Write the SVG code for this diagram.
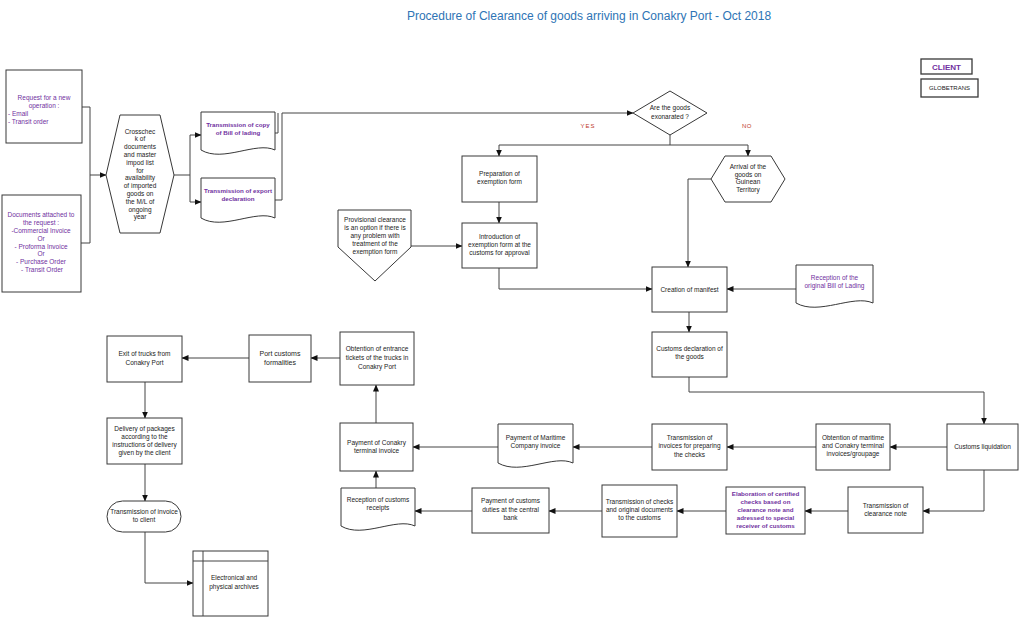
<svg xmlns="http://www.w3.org/2000/svg" width="1024" height="618" viewBox="0 0 1024 618">
<style>
.n{fill:#fff;stroke:#383838;stroke-width:1}
.t{font-family:"Liberation Sans",Arial,sans-serif;font-size:6.5px;fill:#222;text-anchor:middle}
.p{fill:#7030a0}
.b{font-weight:bold}
.c{fill:none;stroke:#444;stroke-width:1}
.a{marker-end:url(#ar)}
</style>
<defs>
<marker id="ar" markerUnits="userSpaceOnUse" markerWidth="7" markerHeight="6" refX="6.5" refY="3" orient="auto">
<path d="M0,0 L7,3 L0,6 Z" fill="#111"/>
</marker>
</defs>
<rect width="1024" height="618" fill="#fff"/>
<text x="589" y="20" style="font-family:'Liberation Sans',Arial,sans-serif;font-size:12px;fill:#2e74b5;text-anchor:middle">Procedure of Clearance of goods arriving in Conakry Port - Oct 2018</text>

<g id="connectors">
<path class="c" d="M82 107 H90 V243 H81"/>
<path class="c a" d="M90 175 H106"/>
<path class="c" d="M174 175 H190"/>
<path class="c a" d="M190 175 V135 H201"/>
<path class="c a" d="M190 175 V202 H201"/>
<path class="c" d="M275 133 H278 V113"/>
<path class="c a" d="M275 200 H282 V113 H633"/>
<path class="c a" d="M670 135 V145 H499 V156"/>
<path class="c a" d="M670 145 H748 V156"/>
<path class="c a" d="M499 202 V223"/>
<path class="c a" d="M411 246 H462"/>
<path class="c a" d="M499 268 V289 H652"/>
<path class="c a" d="M711 179 H688 V267"/>
<path class="c a" d="M796 289 H727"/>
<path class="c a" d="M689 312 V332"/>
<path class="c a" d="M689 377 V392 H984 V424"/>
<path class="c a" d="M947 447 H890"/>
<path class="c a" d="M816 447 H727"/>
<path class="c a" d="M652 447 H573"/>
<path class="c a" d="M498 447 H413"/>
<path class="c a" d="M376 423 V385"/>
<path class="c a" d="M340 358 H311"/>
<path class="c a" d="M249 358 H182"/>
<path class="c a" d="M145 382 V418"/>
<path class="c a" d="M145 464 V501"/>
<path class="c a" d="M145 532 V583 H193"/>
<path class="c a" d="M984 470 V511 H923"/>
<path class="c a" d="M848 511 H805"/>
<path class="c a" d="M726 511 H677"/>
<path class="c a" d="M602 511 H549"/>
<path class="c a" d="M472 511 H415"/>
<path class="c a" d="M376 488 V471"/>
</g>

<g id="request">
<rect class="n" x="6" y="70" width="76" height="73"/>
<text class="t p"><tspan x="44" y="100">Request for a new</tspan><tspan x="44" y="108">operation :</tspan><tspan x="8" y="116" text-anchor="start">- Email</tspan><tspan x="8" y="124" text-anchor="start">- Transit order</tspan></text>
</g>
<g id="documents">
<rect class="n" x="2" y="195" width="79" height="97"/>
<text class="t p"><tspan x="41" y="217">Documents attached to</tspan><tspan x="41" y="225">the request :</tspan><tspan x="41" y="233">-Commercial Invoice</tspan><tspan x="41" y="241">Or</tspan><tspan x="41" y="249">- Proforma Invoice</tspan><tspan x="41" y="256">Or</tspan><tspan x="41" y="264">- Purchase Order</tspan><tspan x="42" y="272">- Transit Order</tspan></text>
</g>
<g id="crosscheck">
<polygon class="n" points="106,175 120,115 160,115 174,175 160,233 120,233"/>
<text class="t"><tspan x="140" y="133.5">Crosschec</tspan><tspan x="140" y="141.3">k of</tspan><tspan x="140" y="149.1">documents</tspan><tspan x="140" y="156.9">and master</tspan><tspan x="140" y="164.7">impod list</tspan><tspan x="140" y="172.5">for</tspan><tspan x="140" y="180.3">availability</tspan><tspan x="140" y="188.1">of imported</tspan><tspan x="140" y="195.9">goods on</tspan><tspan x="140" y="203.7">the M/L of</tspan><tspan x="140" y="211.5">ongoing</tspan><tspan x="140" y="219.3">year</tspan></text>
</g>
<g id="doc-bl">
<path class="n" d="M201 112 H275 V150 C256 141 223 163 201 150 Z"/>
<text class="t p b" style="font-size:6.2px"><tspan x="238" y="127">Transmission of copy</tspan><tspan x="238" y="135">of Bill of lading</tspan></text>
</g>
<g id="doc-export">
<path class="n" d="M201 178 H275 V218 C256 209 223 231 201 218 Z"/>
<text class="t p b" style="font-size:6.2px"><tspan x="238" y="193">Transmission of export</tspan><tspan x="238" y="201">declaration</tspan></text>
</g>
<g id="decision">
<polygon class="n" points="633,113 670,91 707,113 670,135"/>
<text class="t"><tspan x="670" y="110">Are the goods</tspan><tspan x="670" y="119">exonarated ?</tspan></text>
</g>
<text x="588" y="128" style="font-family:'Liberation Sans',Arial,sans-serif;font-size:6px;fill:#c0392b;text-anchor:middle;letter-spacing:1px">YES</text>
<text x="747" y="128" style="font-family:'Liberation Sans',Arial,sans-serif;font-size:6px;fill:#c0392b;text-anchor:middle;letter-spacing:0.5px">NO</text>
<g id="preparation">
<rect class="n" x="462" y="156" width="75" height="46"/>
<text class="t"><tspan x="499.5" y="176">Preparation of</tspan><tspan x="499.5" y="184">exemption form</tspan></text>
</g>
<g id="introduction">
<rect class="n" x="462" y="223" width="75" height="45"/>
<text class="t"><tspan x="499.5" y="239">Introduction of</tspan><tspan x="499.5" y="247">exemption form at the</tspan><tspan x="499.5" y="255">customs for approval</tspan></text>
</g>
<g id="arrival">
<polygon class="n" points="711,179 725,156 771,156 785,179 771,202 725,202"/>
<text class="t"><tspan x="748" y="169">Arrival of the</tspan><tspan x="748" y="176.7">goods on</tspan><tspan x="748" y="184.4">Guinean</tspan><tspan x="748" y="192.1">Territory</tspan></text>
</g>
<g id="provisional">
<polygon class="n" points="338,210 411,210 411,247 375,281 338,247"/>
<text class="t"><tspan x="375" y="222">Provisional clearance</tspan><tspan x="375" y="230">is an option if there is</tspan><tspan x="375" y="238">any problem with</tspan><tspan x="375" y="246">treatment of the</tspan><tspan x="375" y="254">exemption form</tspan></text>
</g>
<g id="manifest">
<rect class="n" x="652" y="267" width="75" height="45"/>
<text class="t"><tspan x="689.5" y="292">Creation of manifest</tspan></text>
</g>
<g id="reception-bl">
<path class="n" d="M796 265 H873 V303 C853 294 819 316 796 303 Z"/>
<text class="t p"><tspan x="834.5" y="280">Reception of the</tspan><tspan x="834.5" y="288">original Bill of Lading</tspan></text>
</g>
<g id="customs-declaration">
<rect class="n" x="652" y="332" width="75" height="45"/>
<text class="t"><tspan x="689.5" y="351">Customs declaration of</tspan><tspan x="689.5" y="359">the goods</tspan></text>
</g>
<g id="liquidation">
<rect class="n" x="947" y="424" width="71" height="46"/>
<text class="t"><tspan x="982.5" y="449">Customs liquidation</tspan></text>
</g>
<g id="obtention-invoices">
<rect class="n" x="816" y="424" width="74" height="46"/>
<text class="t"><tspan x="853" y="440">Obtention of maritime</tspan><tspan x="853" y="448">and Conakry terminal</tspan><tspan x="853" y="456">invoices/groupage</tspan></text>
</g>
<g id="transmission-invoices">
<rect class="n" x="652" y="424" width="75" height="46"/>
<text class="t"><tspan x="689.5" y="439.5">Transmission of</tspan><tspan x="689.5" y="448">invoices for preparing</tspan><tspan x="689.5" y="456.5">the checks</tspan></text>
</g>
<g id="payment-maritime">
<path class="n" d="M498 424 H573 V463 C554 454 521 476 498 463 Z"/>
<text class="t"><tspan x="535.5" y="440">Payment of Maritime</tspan><tspan x="535.5" y="448">Company invoice</tspan></text>
</g>
<g id="payment-conakry">
<rect class="n" x="340" y="423" width="73" height="48"/>
<text class="t"><tspan x="376.5" y="445">Payment of Conakry</tspan><tspan x="376.5" y="453">terminal invoice</tspan></text>
</g>
<g id="obtention-tickets">
<rect class="n" x="340" y="332" width="74" height="53"/>
<text class="t"><tspan x="377" y="351">Obtention of entrance</tspan><tspan x="377" y="360">tickets of the trucks in</tspan><tspan x="377" y="368.5">Conakry Port</tspan></text>
</g>
<g id="port-customs">
<rect class="n" x="249" y="335" width="62" height="47"/>
<text class="t" style="font-size:7px"><tspan x="280" y="356">Port customs</tspan><tspan x="280" y="365">formalities</tspan></text>
</g>
<g id="exit">
<rect class="n" x="107" y="336" width="75" height="46"/>
<text class="t"><tspan x="144.5" y="356">Exit of trucks from</tspan><tspan x="144.5" y="365">Conakry Port</tspan></text>
</g>
<g id="delivery">
<rect class="n" x="107" y="418" width="75" height="46"/>
<text class="t"><tspan x="144.5" y="430.5">Delivery of packages</tspan><tspan x="144.5" y="438.5">according to the</tspan><tspan x="144.5" y="446.5">instructions of delivery</tspan><tspan x="144.5" y="454.5">given by the client</tspan></text>
</g>
<g id="invoice-client">
<rect class="n" x="107" y="501" width="74" height="31" rx="15.5"/>
<text class="t"><tspan x="144" y="514">Transmission of invoice</tspan><tspan x="144" y="522">to client</tspan></text>
</g>
<g id="archives">
<rect class="n" x="193" y="551" width="75" height="65"/>
<path class="c" d="M203 551 V616 M193 561 H268"/>
<text class="t"><tspan x="234" y="580">Electronical and</tspan><tspan x="234" y="589">physical archives</tspan></text>
</g>
<g id="receipts">
<path class="n" d="M341 488 H415 V526 C396 517 363 539 341 526 Z"/>
<text class="t"><tspan x="378" y="502">Reception of customs</tspan><tspan x="378" y="510">receipts</tspan></text>
</g>
<g id="payment-duties">
<rect class="n" x="472" y="488" width="77" height="45"/>
<text class="t"><tspan x="510.5" y="503">Payment of customs</tspan><tspan x="510.5" y="511.5">duties at the central</tspan><tspan x="510.5" y="520">bank</tspan></text>
</g>
<g id="transmission-checks">
<rect class="n" x="602" y="485" width="75" height="52"/>
<text class="t"><tspan x="639.5" y="504">Transmission of checks</tspan><tspan x="639.5" y="512">and original documents</tspan><tspan x="639.5" y="520">to the customs</tspan></text>
</g>
<g id="elaboration">
<rect class="n" x="726" y="487" width="79" height="47"/>
<text class="t p b" style="font-size:6.2px"><tspan x="765.5" y="496">Elaboration of certified</tspan><tspan x="765.5" y="504">checks based on</tspan><tspan x="765.5" y="512">clearance note and</tspan><tspan x="765.5" y="520">adressed to special</tspan><tspan x="765.5" y="528">receiver of customs</tspan></text>
</g>
<g id="clearance-note">
<rect class="n" x="848" y="487" width="75" height="46"/>
<text class="t"><tspan x="885.5" y="508">Transmission of</tspan><tspan x="885.5" y="516">clearance note</tspan></text>
</g>
<g id="legend-client">
<rect class="n" x="921" y="59" width="51" height="15" style="stroke-width:1.3"/>
<text class="t p b" x="946.5" y="69.5" style="font-size:8px">CLIENT</text>
</g>
<g id="legend-globetrans">
<rect class="n" x="921" y="79" width="57" height="18" style="stroke-width:1.3"/>
<text class="t" x="949.5" y="90.2" style="font-size:6px">GLOBETRANS</text>
</g>
</svg>
